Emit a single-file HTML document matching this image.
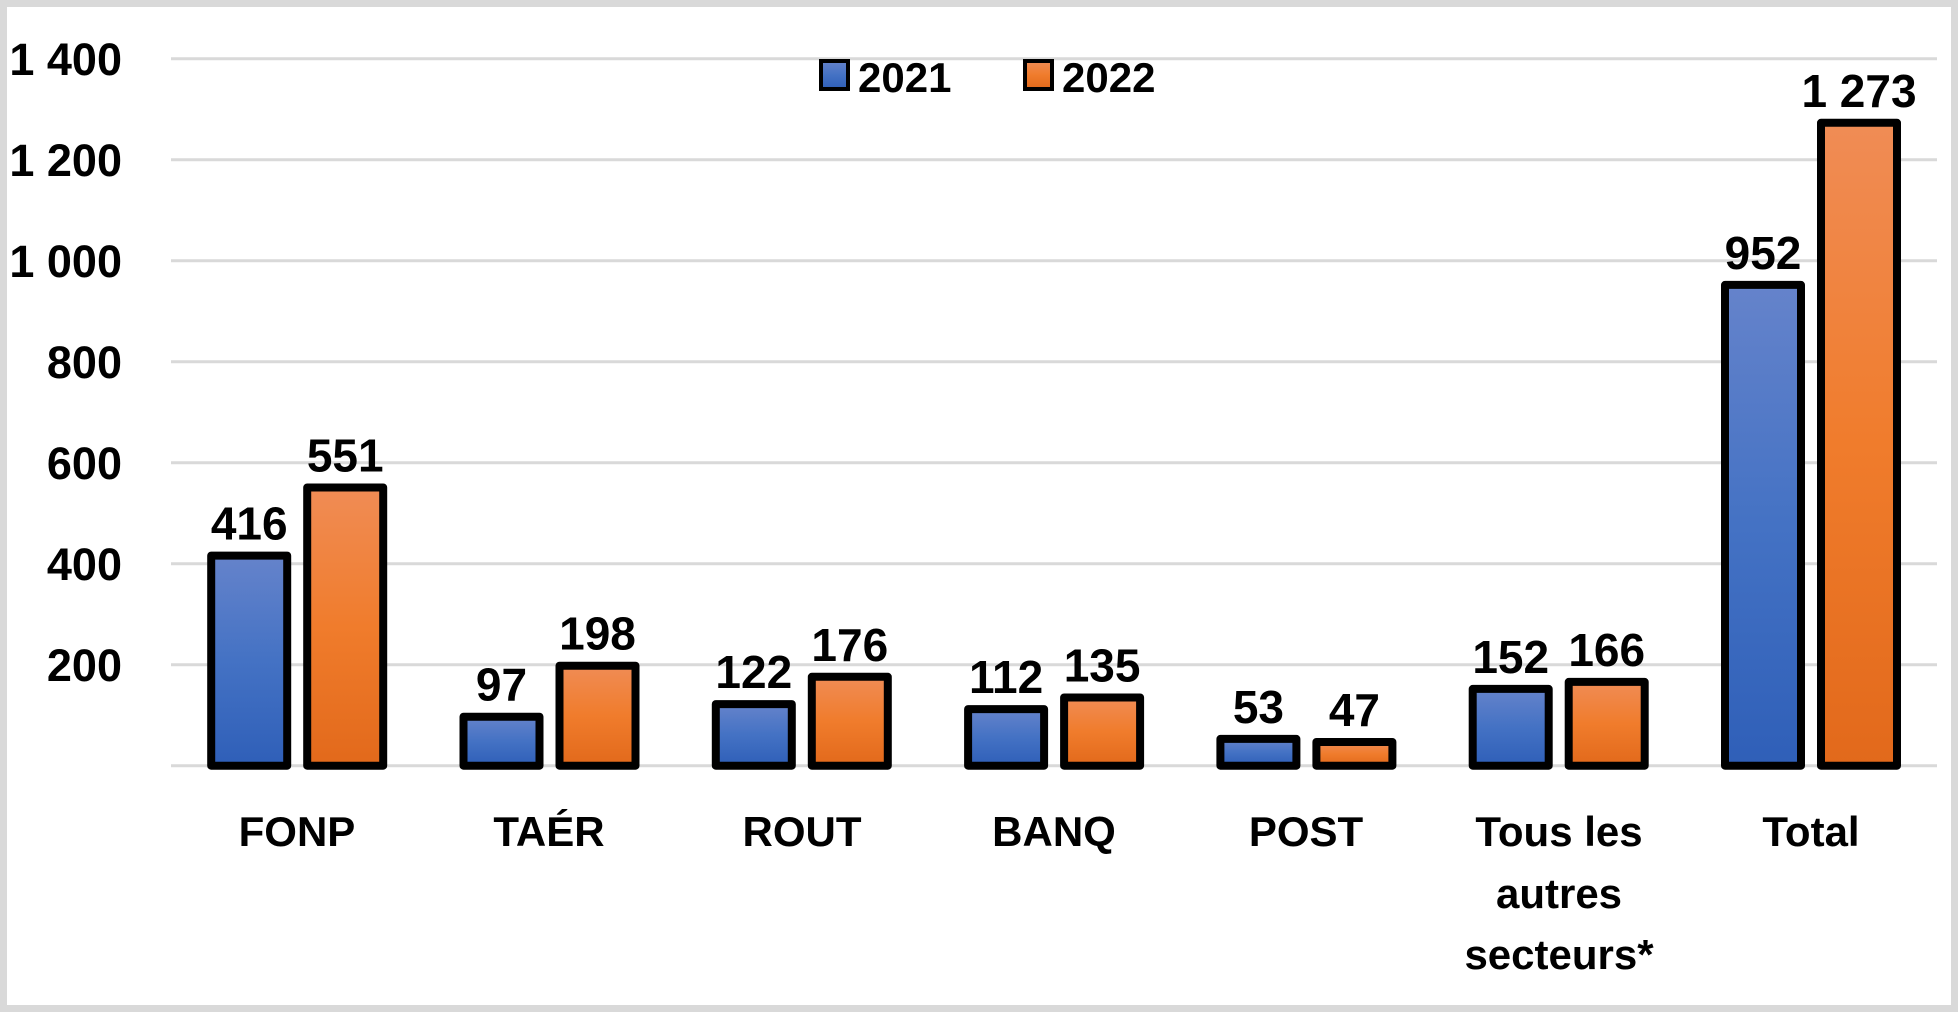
<!DOCTYPE html>
<html><head><meta charset="utf-8"><style>
html,body{margin:0;padding:0;background:#fff}
svg{display:block}
text{font-family:"Liberation Sans",Arial,sans-serif;font-weight:bold;fill:#000}
</style></head><body>
<svg width="1958" height="1012" viewBox="0 0 1958 1012" xmlns="http://www.w3.org/2000/svg">
<defs>
<linearGradient id="gb" x1="0" y1="0" x2="0" y2="1"><stop offset="0" stop-color="#6583cb"/><stop offset="0.5" stop-color="#4472c4"/><stop offset="1" stop-color="#2f5fb8"/></linearGradient>
<linearGradient id="go" x1="0" y1="0" x2="0" y2="1"><stop offset="0" stop-color="#f08c55"/><stop offset="0.5" stop-color="#f07c2c"/><stop offset="1" stop-color="#e2691b"/></linearGradient>
</defs>
<rect x="3.5" y="3.5" width="1951" height="1005" fill="#fff" stroke="#d9d9d9" stroke-width="7"/>
<g stroke="#d9d9d9" stroke-width="3">
<line x1="171" x2="1937" y1="58.7" y2="58.7"/>
<line x1="171" x2="1937" y1="159.7" y2="159.7"/>
<line x1="171" x2="1937" y1="260.7" y2="260.7"/>
<line x1="171" x2="1937" y1="361.7" y2="361.7"/>
<line x1="171" x2="1937" y1="462.7" y2="462.7"/>
<line x1="171" x2="1937" y1="563.7" y2="563.7"/>
<line x1="171" x2="1937" y1="664.7" y2="664.7"/>
<line x1="171" x2="1937" y1="765.7" y2="765.7"/>
</g>
<g font-size="45" text-anchor="end">
<text x="122" y="75">1 400</text>
<text x="122" y="176">1 200</text>
<text x="122" y="277">1 000</text>
<text x="122" y="378">800</text>
<text x="122" y="479">600</text>
<text x="122" y="580">400</text>
<text x="122" y="681">200</text>
</g>
<rect x="821" y="61" width="27" height="28" fill="url(#gb)" stroke="#000" stroke-width="4"/>
<text x="858" y="92" font-size="42">2021</text>
<rect x="1025" y="61" width="27" height="28" fill="url(#go)" stroke="#000" stroke-width="4"/>
<text x="1062" y="92" font-size="42">2022</text>
<g stroke="#000" stroke-width="8" stroke-linejoin="round">
<rect x="211.2" y="555.6" width="76" height="210.1" fill="url(#gb)"/>
<rect x="307.2" y="487.5" width="76" height="278.2" fill="url(#go)"/>
<rect x="463.5" y="716.7" width="76" height="49" fill="url(#gb)"/>
<rect x="559.5" y="665.7" width="76" height="100" fill="url(#go)"/>
<rect x="715.8" y="704.1" width="76" height="61.6" fill="url(#gb)"/>
<rect x="811.8" y="676.8" width="76" height="88.9" fill="url(#go)"/>
<rect x="968.1" y="709.1" width="76" height="56.6" fill="url(#gb)"/>
<rect x="1064.1" y="697.5" width="76" height="68.2" fill="url(#go)"/>
<rect x="1220.4" y="738.9" width="76" height="26.8" fill="url(#gb)"/>
<rect x="1316.4" y="742.0" width="76" height="23.7" fill="url(#go)"/>
<rect x="1472.7" y="688.9" width="76" height="76.8" fill="url(#gb)"/>
<rect x="1568.7" y="681.9" width="76" height="83.8" fill="url(#go)"/>
<rect x="1725.0" y="284.9" width="76" height="480.8" fill="url(#gb)"/>
<rect x="1821.0" y="122.8" width="76" height="642.9" fill="url(#go)"/>
</g>
<g font-size="46" text-anchor="middle">
<text x="249.2" y="539.6">416</text>
<text x="345.2" y="471.5">551</text>
<text x="501.5" y="700.7">97</text>
<text x="597.5" y="649.7">198</text>
<text x="753.8" y="688.1">122</text>
<text x="849.8" y="660.8">176</text>
<text x="1006.1" y="693.1">112</text>
<text x="1102.1" y="681.5">135</text>
<text x="1258.4" y="722.9">53</text>
<text x="1354.4" y="726.0">47</text>
<text x="1510.7" y="672.9">152</text>
<text x="1606.7" y="665.9">166</text>
<text x="1763.0" y="268.9">952</text>
<text x="1859.0" y="106.8">1 273</text>
</g>
<g font-size="42" text-anchor="middle">
<text x="297" y="846">FONP</text>
<text x="549" y="846">TAÉR</text>
<text x="802" y="846">ROUT</text>
<text x="1054" y="846">BANQ</text>
<text x="1306" y="846">POST</text>
<text x="1559" y="846">Tous les</text>
<text x="1559" y="908">autres</text>
<text x="1559" y="969">secteurs*</text>
<text x="1811" y="846">Total</text>
</g>
</svg>
</body></html>
